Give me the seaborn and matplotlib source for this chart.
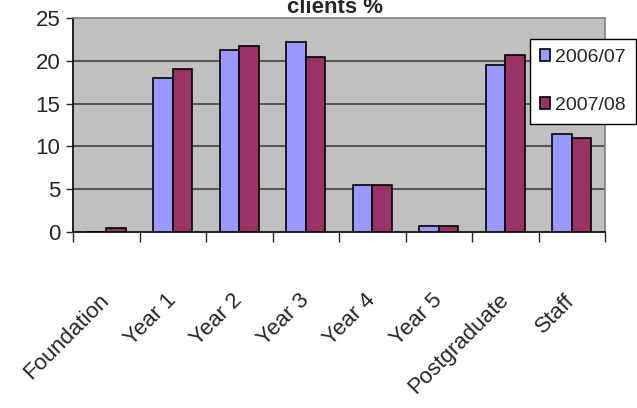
import numpy as np
import pandas as pd
import seaborn as sns
import matplotlib.pyplot as plt

categories = ['Foundation', 'Year 1', 'Year 2', 'Year 3', 'Year 4', 'Year 5', 'Postgraduate', 'Staff']
y2006 = [0.0, 18.0, 21.3, 22.2, 5.5, 0.7, 19.5, 11.5]
y2007 = [0.5, 19.0, 21.7, 20.5, 5.5, 0.7, 20.7, 11.0]
series = ['2006/07', '2007/08']
colors = ['#9999FF', '#993366']

df = pd.DataFrame({
    'cat': categories * 2,
    'val': y2006 + y2007,
    'year': [series[0]] * len(categories) + [series[1]] * len(categories),
})

sns.set_style('white')
plt.rcParams['font.family'] = ['Liberation Sans', 'DejaVu Sans']

fig = plt.figure(figsize=(6.37, 4.08), dpi=100)
ax = fig.add_axes([73 / 637, 1 - 232 / 408, 532 / 637, 214 / 408])
ax.set_facecolor('#C0C0C0')

sns.barplot(data=df, x='cat', y='val', hue='year', palette=colors, width=0.58,
            edgecolor='black', linewidth=1.2, saturation=1, ax=ax, zorder=3)

ax.set_ylim(0, 25)
ax.set_xlim(-0.5, len(categories) - 0.5)
ax.set_yticks([0, 5, 10, 15, 20, 25])
for v in [5, 10, 15, 20]:
    ax.axhline(v, color='#404040', lw=1.2, zorder=1)

ax.set_xlabel('')
ax.set_ylabel('')
ax.tick_params(axis='y', labelsize=16, length=5, width=1, direction='out', left=True, pad=4)
ax.set_xticks(np.arange(len(categories)))
ax.set_xticklabels(categories, rotation=45, ha='right', va='center', rotation_mode='anchor', fontsize=16)
ax.tick_params(axis='x', length=0, pad=47)
ax.set_xticks(np.arange(-0.5, len(categories)), minor=True)
ax.tick_params(axis='x', which='minor', length=7, width=1, direction='out', bottom=True)

for s in ['left', 'bottom']:
    ax.spines[s].set_color('black')
    ax.spines[s].set_linewidth(1.2)
for s in ['top', 'right']:
    ax.spines[s].set_color('#808080')
    ax.spines[s].set_linewidth(1.2)

leg = ax.legend(loc='upper left', bbox_to_anchor=(530 / 637, 1 - 39 / 408), bbox_transform=fig.transFigure,
                frameon=True, fancybox=False, edgecolor='black', framealpha=1, fontsize=14,
                handlelength=0.55, handleheight=0.55, handletextpad=0.25, labelspacing=1.6,
                borderpad=0.5, borderaxespad=0)
leg.get_frame().set_linewidth(1)
leg.set_zorder(5)

fig.text(335 / 637, 1 - 13 / 408, 'clients %', ha='center', va='baseline', fontsize=16, fontweight='bold')

fig.savefig('out.png', dpi=100)
